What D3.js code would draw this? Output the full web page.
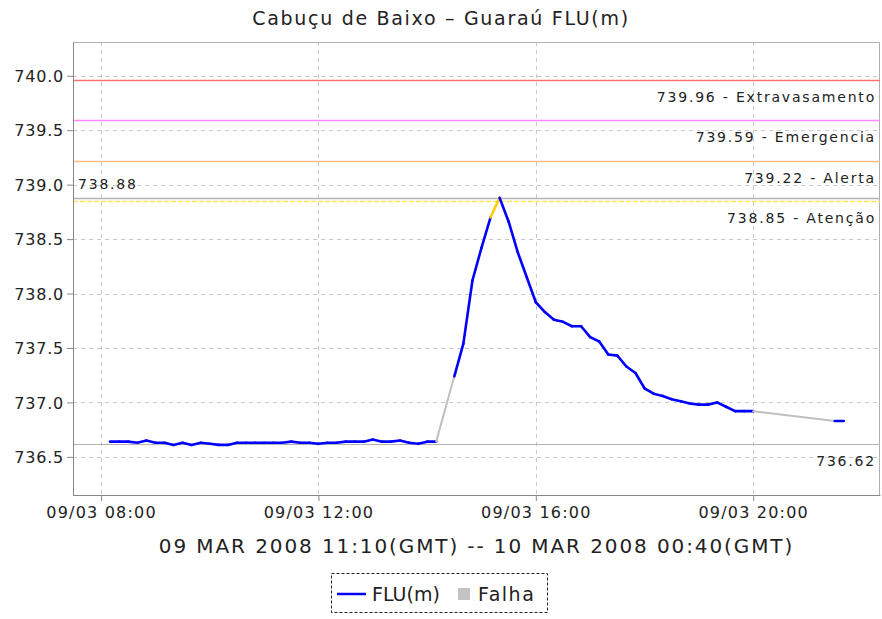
<!DOCTYPE html>
<html>
<head>
<meta charset="utf-8">
<script src="https://cdn.jsdelivr.net/npm/d3@7"></script>
<style>
  body { margin: 0; background: #fff; }
  text { font-family: "DejaVu Sans", sans-serif; fill: #222; }
</style>
</head>
<body>
<svg id="chart"></svg>
<script>
// leituras a cada 10 min (hora local)
const times = [
  "08:10", "08:20", "08:30", "08:40", "08:50", "09:00", "09:10", "09:20", "09:30", "09:40",
  "09:50", "10:00", "10:10", "10:20", "10:30", "10:40", "10:50", "11:00", "11:10", "11:20",
  "11:30", "11:40", "11:50", "12:00", "12:10", "12:20", "12:30", "12:40", "12:50", "13:00",
  "13:10", "13:20", "13:30", "13:40", "13:50", "14:00", "14:10",
  "14:30", "14:40", "14:50", "15:00", "15:10", "15:20", "15:30", "15:40", "15:50", "16:00",
  "16:10", "16:20", "16:30", "16:40", "16:50", "17:00", "17:10", "17:20", "17:30", "17:40",
  "17:50", "18:00", "18:10", "18:20", "18:30", "18:40", "18:50", "19:00", "19:10", "19:20",
  "19:30", "19:40", "19:50", "20:00",
  "21:30", "21:40"
];
const levels = [
  736.64, 736.64, 736.64, 736.63, 736.65, 736.63, 736.63, 736.61, 736.63, 736.61,
  736.63, 736.62, 736.61, 736.61, 736.63, 736.63, 736.63, 736.63, 736.63, 736.63,
  736.64, 736.63, 736.63, 736.62, 736.63, 736.63, 736.64, 736.64, 736.64, 736.66,
  736.64, 736.64, 736.65, 736.63, 736.62, 736.64, 736.64,
  737.24, 737.54, 738.12, 738.42, 738.70, 738.88, 738.66, 738.38, 738.15, 737.92,
  737.83, 737.76, 737.74, 737.70, 737.70, 737.60, 737.56, 737.44, 737.43, 737.33,
  737.27, 737.13, 737.08, 737.06, 737.03, 737.01, 736.99, 736.98, 736.98, 737.00,
  736.96, 736.92, 736.92, 736.92,
  736.83, 736.83
];

const limitValues = [739.96, 739.59, 739.22, 738.85];
const limitNames = ["Extravasamento", "Emergencia", "Alerta", "Atenção"];
const limitColors = ["#ff7070", "#ff88ff", "#ffc088", "#ffe45a"];
const segmentColors = ["#ff3030", "#ff00ff", "#ff9933", "#ffcc00"];

const yTicks = [736.5, 737.0, 737.5, 738.0, 738.5, 739.0, 739.5, 740.0];
const day = "2008-03-09";
const startTime = "07:29";
const endTime = "22:20";

const width = 882;
const height = 619;
const margin = { top: 42, right: 2, bottom: 124, left: 73 };

const parse = d3.timeParse("%Y-%m-%d %H:%M");
const data = times.map((t, i) => ({ date: parse(`${day} ${t}`), value: levels[i] }));

const svg = d3.select("#chart").attr("width", width).attr("height", height);

const x = d3
  .scaleTime()
  .domain([parse(`${day} ${startTime}`), parse(`${day} ${endTime}`)])
  .range([margin.left, width - margin.right]);

const y = d3
  .scaleLinear()
  .domain([736.15, 740.31])
  .range([height - margin.bottom, margin.top]);

// title
svg
  .append("text")
  .attr("x", width / 2)
  .attr("y", 25)
  .attr("text-anchor", "middle")
  .attr("font-size", 19)
  .attr("letter-spacing", 1.7)
  .text("Cabuçu de Baixo – Guaraú FLU(m)");

// grid
const xTicks = x.ticks(d3.timeHour.every(4));
svg
  .append("g")
  .selectAll("line")
  .data(yTicks)
  .join("line")
  .attr("x1", margin.left)
  .attr("x2", width - margin.right)
  .attr("y1", (d) => Math.round(y(d)) + 0.5)
  .attr("y2", (d) => Math.round(y(d)) + 0.5)
  .attr("stroke", "#c8c8c8")
  .attr("stroke-dasharray", "4,4");
svg
  .append("g")
  .selectAll("line")
  .data(xTicks)
  .join("line")
  .attr("x1", (d) => Math.round(x(d)) + 0.5)
  .attr("x2", (d) => Math.round(x(d)) + 0.5)
  .attr("y1", margin.top)
  .attr("y2", height - margin.bottom)
  .attr("stroke", "#c8c8c8")
  .attr("stroke-dasharray", "4,4");

// plot border
svg
  .append("rect")
  .attr("x", margin.left + 0.5)
  .attr("y", margin.top + 0.5)
  .attr("width", width - margin.left - margin.right - 1)
  .attr("height", height - margin.top - margin.bottom)
  .attr("fill", "none")
  .attr("stroke", "#b0b0b0");

// limit lines
const plotRight = width - margin.right;
const labelFont = 14;
const labelSpacing = 1.8;
limitValues.forEach((v, i) => {
  const yy = Math.round(y(v)) + 0.5;
  svg
    .append("line")
    .attr("x1", margin.left)
    .attr("x2", plotRight)
    .attr("y1", yy)
    .attr("y2", yy)
    .attr("stroke", limitColors[i])
    .attr("stroke-width", 1.5)
    .attr("stroke-dasharray", i === 3 ? "5,2" : null);
  svg
    .append("text")
    .attr("x", plotRight - 4)
    .attr("y", yy + 21)
    .attr("text-anchor", "end")
    .attr("font-size", labelFont)
    .attr("letter-spacing", labelSpacing)
    .attr("fill", "#333")
    .text(`${v.toFixed(2)} - ${limitNames[i]}`);
});

// max / min lines
const maxValue = d3.max(levels);
const minValue = 736.62;
const yMax = Math.round(y(maxValue)) + 0.5;
const yMin = Math.round(y(minValue)) + 0.5;
svg
  .append("line")
  .attr("x1", margin.left)
  .attr("x2", plotRight)
  .attr("y1", yMax)
  .attr("y2", yMax)
  .attr("stroke", "#b4b4b4")
  .attr("stroke-width", 1.5);
svg
  .append("text")
  .attr("x", margin.left + 5)
  .attr("y", yMax - 10)
  .attr("font-size", labelFont)
  .attr("letter-spacing", labelSpacing)
  .attr("fill", "#444")
  .text(maxValue.toFixed(2));
svg
  .append("line")
  .attr("x1", margin.left)
  .attr("x2", plotRight)
  .attr("y1", yMin)
  .attr("y2", yMin)
  .attr("stroke", "#b4b4b4")
  .attr("stroke-width", 1.2);
svg
  .append("text")
  .attr("x", plotRight - 4)
  .attr("y", yMin + 21)
  .attr("text-anchor", "end")
  .attr("font-size", labelFont)
  .attr("letter-spacing", labelSpacing)
  .attr("fill", "#444")
  .text(minValue.toFixed(2));

// series segments: gray where a reading is missing, colored by alert level
const segments = d3.pairs(data).map(([a, b]) => {
  let color = "#0000ff";
  if (b.date - a.date > 15 * 60 * 1000) color = "#c0c0c0";
  else {
    const lvl = limitValues.findIndex((v) => b.value >= v);
    if (lvl >= 0) color = segmentColors[lvl];
  }
  return { a, b, color };
});
svg
  .append("g")
  .selectAll("line")
  .data(segments)
  .join("line")
  .attr("x1", (d) => x(d.a.date))
  .attr("y1", (d) => y(d.a.value))
  .attr("x2", (d) => x(d.b.date))
  .attr("y2", (d) => y(d.b.value))
  .attr("stroke", (d) => d.color)
  .attr("stroke-width", (d) => (d.color === "#c0c0c0" ? 2 : 2.6))
  .attr("stroke-linecap", "round");

// axes
const yAxis = svg
  .append("g")
  .attr("transform", `translate(${margin.left},0)`)
  .call(d3.axisLeft(y).tickValues(yTicks).tickFormat(d3.format(".1f")).tickSizeInner(6).tickSizeOuter(0));
const xAxis = svg
  .append("g")
  .attr("transform", `translate(0,${height - margin.bottom})`)
  .call(d3.axisBottom(x).tickValues(xTicks).tickFormat(d3.timeFormat("%d/%m %H:%M")).tickSizeInner(6).tickSizeOuter(0));
[yAxis, xAxis].forEach((ax) => {
  ax.select(".domain").attr("stroke", "#888");
  ax.selectAll(".tick line").attr("stroke", "#888");
  ax.selectAll(".tick text")
    .attr("font-family", "DejaVu Sans")
    .attr("font-size", 16)
    .attr("fill", "#222");
});
yAxis.selectAll(".tick text").attr("x", -9).attr("dy", "0.36em").attr("letter-spacing", 0.8);
xAxis.selectAll(".tick text").attr("y", 12).attr("letter-spacing", 1.2);

// subtitle
svg
  .append("text")
  .attr("x", (margin.left + width - margin.right) / 2)
  .attr("y", 553)
  .attr("text-anchor", "middle")
  .attr("font-size", 20)
  .attr("letter-spacing", 1.9)
  .text("09 MAR 2008 11:10(GMT) -- 10 MAR 2008 00:40(GMT)");

// legend
const legend = svg.append("g").attr("transform", "translate(331,573)");
legend
  .append("rect")
  .attr("x", 0.5)
  .attr("y", 0.5)
  .attr("width", 216)
  .attr("height", 39)
  .attr("fill", "#fff")
  .attr("stroke", "#222")
  .attr("stroke-dasharray", "3,2");
legend
  .append("line")
  .attr("x1", 6)
  .attr("x2", 35)
  .attr("y1", 21)
  .attr("y2", 21)
  .attr("stroke", "#0000ff")
  .attr("stroke-width", 2.5);
legend
  .append("text")
  .attr("x", 41)
  .attr("y", 28)
  .attr("font-size", 19)
  .text("FLU(m)");
legend
  .append("rect")
  .attr("x", 127)
  .attr("y", 15)
  .attr("width", 12)
  .attr("height", 12)
  .attr("fill", "#c4c4c4");
legend
  .append("text")
  .attr("x", 147)
  .attr("y", 28)
  .attr("font-size", 19)
  .attr("letter-spacing", 1.5)
  .text("Falha");
</script>
</body>
</html>
